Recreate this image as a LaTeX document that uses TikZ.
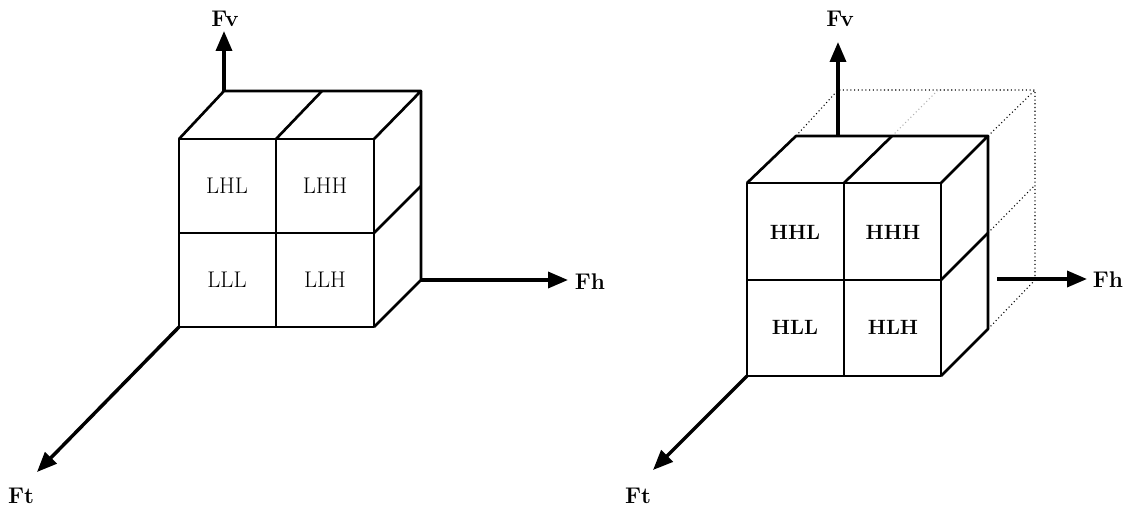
\documentclass[tikz,border=0pt]{standalone}
\usepackage{tikz}
\usetikzlibrary{arrows.meta}

\begin{document}
\begin{tikzpicture}[x=0.75pt,y=-0.75pt,
  edge/.style={line width=2pt,line join=round},
  split/.style={line width=1.4pt},
  hidden/.style={line width=0.8pt,dotted},
  axis/.style={line width=2.6pt,-{Triangle[length=15pt,width=12pt]}},
  cell/.style={font=\fontsize{17}{20}\selectfont},
  hcell/.style={font=\fontsize{15.5}{18}\selectfont\bfseries},
  axlabel/.style={font=\fontsize{17}{20}\selectfont\bfseries}]
\useasboundingbox (0,0) rectangle (1127,510);

% left cube: the low band
\draw[edge] (179,139) rectangle (374,327);
\draw[split] (276,139) -- (276,327);
\draw[split] (179,233) -- (374,233);
\draw[edge] (179,139) -- (224,91) -- (421,91) -- (374,139);
\draw[edge] (421,91) -- (421,280) -- (374,327);
\draw[edge] (276,139) -- (322,91);
\draw[edge] (374,233) -- (421,186);
\node[cell] (lhl) at (227,186) {LHL};
\node[cell] (lhh) at (325,186) {LHH};
\node[cell] (lll) at (227,280) {LLL};
\node[cell] (llh) at (325,280) {LLH};

\coordinate (lv0) at (224,91);
\coordinate (lh0) at (421,280);
\coordinate (lt0) at (179,327);
\coordinate (lv1) at (224,31);
\coordinate (lh1) at (568,280);
\coordinate (lt1) at (37,472);
\draw[axis] (lv0) -- (lv1);
\draw[axis] (lh0) -- (lh1);
\draw[axis] (lt0) -- (lt1);
\node[axlabel] (lfv) at (225,19) {Fv};
\node[axlabel] (lfh) at (590,282) {Fh};
\node[axlabel] (lft) at (21,496) {Ft};

% right cube: the high band, the low band dotted behind it
\draw[hidden] (796,136) -- (838,90) -- (1035,90) -- (1035,280);
\draw[hidden] (988,136) -- (1035,90);
\draw[hidden] (988,233) -- (1035,185);
\draw[hidden] (988,329) -- (1035,280);
\draw[hidden,gray!60] (892,136) -- (938,90);

\draw[edge] (747,183) rectangle (941,376);
\draw[split] (844,183) -- (844,376);
\draw[split] (747,280) -- (941,280);
\draw[edge] (747,183) -- (796,136) -- (988,136) -- (941,183);
\draw[edge] (988,136) -- (988,329) -- (941,376);
\draw[edge] (844,183) -- (892,136);
\draw[edge] (941,280) -- (988,233);
\node[hcell] (hhl) at (795,232) {HHL};
\node[hcell] (hhh) at (893,232) {HHH};
\node[hcell] (hll) at (795,327) {HLL};
\node[hcell] (hlh) at (893,327) {HLH};

\coordinate (rv0) at (838,136);
\coordinate (rh0) at (997,279);
\coordinate (rt0) at (747,376);
\coordinate (rv1) at (838,42);
\coordinate (rh1) at (1087,279);
\coordinate (rt1) at (653,470);
\draw[axis] (rv0) -- (rv1);
\draw[axis] (rh0) -- (rh1);
\draw[axis] (rt0) -- (rt1);
\node[axlabel] (rfv) at (840,19) {Fv};
\node[axlabel] (rfh) at (1108,280) {Fh};
\node[axlabel] (rft) at (638,496) {Ft};
\end{tikzpicture}
\end{document}
